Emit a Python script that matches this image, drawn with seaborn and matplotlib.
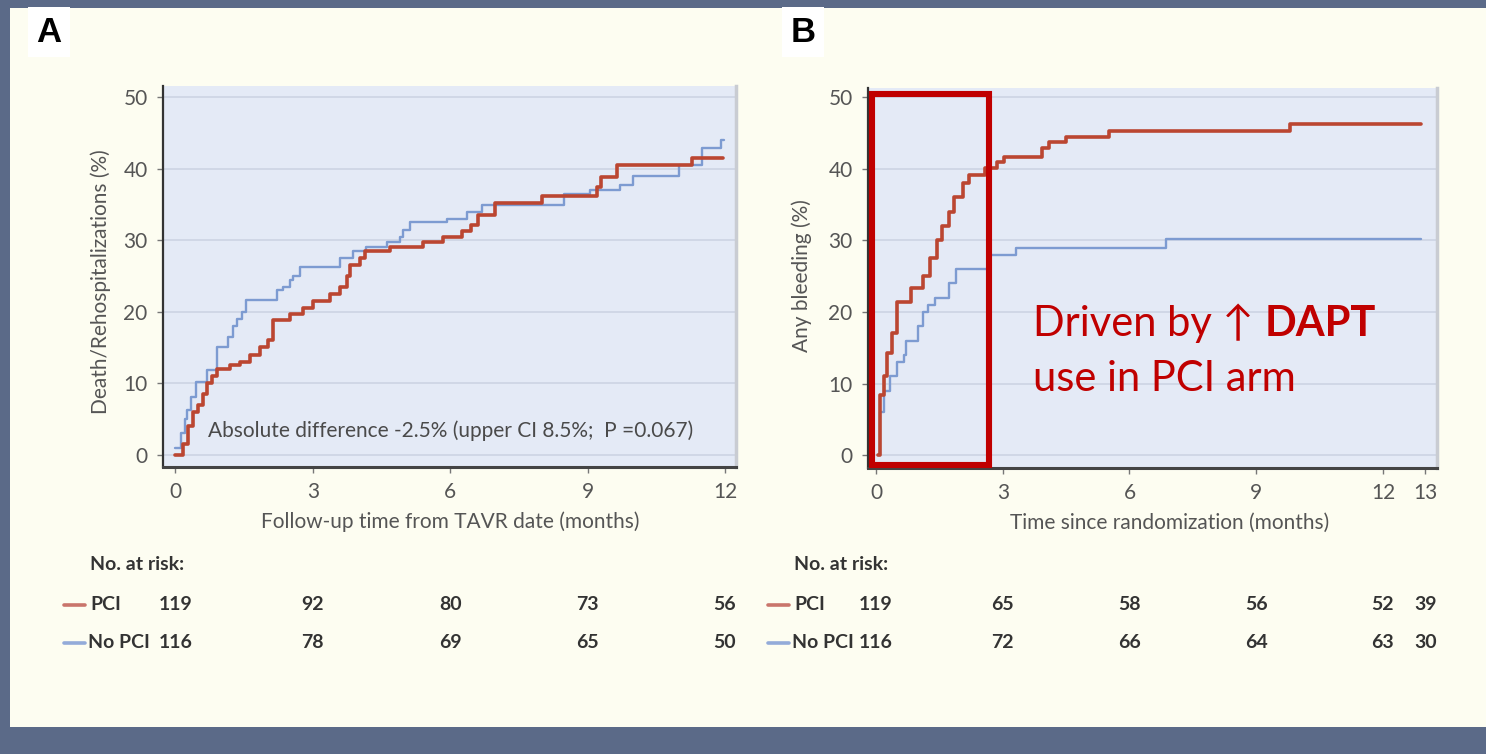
import matplotlib
matplotlib.use("Agg")
import matplotlib.pyplot as plt
import matplotlib.transforms as mtrans
from matplotlib.patches import Rectangle
from matplotlib.lines import Line2D
import seaborn as sns
import pandas as pd

# ---------------- data ----------------
# Panel A: Death/Rehospitalizations (%)
a_pci_t = [0, 0.17, 0.27, 0.38, 0.5, 0.6, 0.7, 0.8, 0.9, 1.19, 1.41, 1.63, 1.84, 2.03, 2.14,
           2.5, 2.79, 3.0, 3.37, 3.59, 3.74, 3.81, 4.03, 4.14, 4.68, 5.4, 5.84, 6.25, 6.45,
           6.6, 6.97, 8.0, 9.2, 9.3, 9.65, 11.29, 11.95]
a_pci_v = [0, 1.5, 4, 6, 7, 8.5, 10, 11, 12, 12.5, 13, 14, 15, 16, 18.8,
           19.7, 20.5, 21.5, 22.5, 23.5, 25, 26.5, 27.5, 28.5, 29.1, 29.8, 30.5, 31.3, 32.2,
           33.5, 35.2, 36.2, 37.5, 38.8, 40.5, 41.5, 41.5]
a_nopci_t = [0, 0.12, 0.2, 0.25, 0.35, 0.46, 0.7, 0.9, 1.15, 1.25, 1.35, 1.45, 1.55, 2.21,
             2.35, 2.5, 2.57, 2.72, 3.59, 3.88, 4.17, 4.61, 4.9, 4.97, 5.12, 5.92, 6.37, 6.7,
             8.49, 9.05, 9.7, 10.0, 11.0, 11.5, 11.92, 11.97]
a_nopci_v = [0.9, 3, 5, 6.2, 8, 10.2, 11.9, 15.1, 16.5, 18, 19, 20, 21.6, 23,
             23.5, 24.5, 25, 26.3, 27.5, 28.5, 29, 29.8, 30.5, 31.5, 32.5, 33, 34, 35,
             36.5, 37, 37.8, 39.05, 40.5, 42.9, 44.1, 44.1]

# Panel B: Any bleeding (%)
b_pci_t = [0.05, 0.1, 0.19, 0.27, 0.38, 0.5, 0.83, 1.12, 1.28, 1.45, 1.57, 1.73, 1.85, 2.07,
           2.19, 2.58, 2.86, 3.03, 3.93, 4.1, 4.49, 5.51, 9.79, 12.89]
b_pci_v = [0, 8.4, 11, 14.2, 17, 21.4, 23.3, 25, 27.5, 30, 32, 34, 36, 38,
           39.1, 40.1, 41, 41.6, 42.9, 43.7, 44.5, 45.3, 46.3, 46.3]
b_nopci_t = [0.05, 0.1, 0.2, 0.33, 0.5, 0.66, 0.72, 1.0, 1.12, 1.23, 1.4, 1.73, 1.9, 2.64,
             3.31, 6.86, 12.89]
b_nopci_v = [0, 6, 9, 11, 13, 14, 16, 18, 20, 21, 22, 24, 26, 28,
             29, 30.2, 30.2]

# risk tables
a_risk_t = [0, 3, 6, 9, 12]
a_risk_pci = [119, 92, 80, 73, 56]
a_risk_nopci = [116, 78, 69, 65, 50]
b_risk_t = [0, 3, 6, 9, 12, 13]
b_risk_pci = [119, 65, 58, 56, 52, 39]
b_risk_nopci = [116, 72, 66, 64, 63, 30]

a_xticks = [0, 3, 6, 9, 12]
b_xticks = [0, 3, 6, 9, 12, 13]
yticks = [0, 10, 20, 30, 40, 50]

# ---------------- style ----------------
sns.set_theme(style="white")
plt.rcParams["font.family"] = ["Lato", "DejaVu Sans"]

RED = "#bb4631"
BLUE = "#7d9bd1"
PLOT_BG = "#e4eaf6"
CREAM = "#fdfdf1"
FRAME = "#5b6a88"
TXT = "#555555"

W, H = 1486, 754
fig = plt.figure(figsize=(W / 100, H / 100), dpi=100)
fig.patch.set_facecolor(FRAME)
fig.add_artist(Rectangle((10 / W, 1 - 727 / H), 1, (727 - 8) / H,
                         transform=fig.transFigure, facecolor=CREAM,
                         edgecolor="none", zorder=-5))


def px_axes(l, t, r, b):
    return fig.add_axes([l / W, 1 - b / H, (r - l) / W, (b - t) / H])


axA = px_axes(163, 86, 736, 467)
axB = px_axes(868, 88, 1437, 468)


def style_axes(ax, xlim, ylim, xticks):
    ax.set_facecolor(PLOT_BG)
    ax.set_xlim(*xlim)
    ax.set_ylim(*ylim)
    ax.set_xticks(xticks)
    ax.set_yticks(yticks)
    ax.yaxis.grid(True, color="#cdd4e3", lw=1.2)
    ax.xaxis.grid(False)
    ax.set_axisbelow(True)
    ax.spines["top"].set_visible(False)
    ax.spines["right"].set_color("#c9ccd2")
    ax.spines["right"].set_linewidth(2.5)
    ax.spines["left"].set_color("#333333")
    ax.spines["left"].set_linewidth(1.6)
    ax.spines["bottom"].set_color("#444444")
    ax.spines["bottom"].set_linewidth(2.2)
    ax.tick_params(axis="both", which="major", direction="out", length=4,
                   width=1, color="#777777", labelsize=15, labelcolor=TXT, pad=7,
                   left=True, bottom=True)


style_axes(axA, (-0.27, 12.24), (-1.75, 51.6), a_xticks)
style_axes(axB, (-0.19, 13.28), (-1.8, 51.3), b_xticks)


def km(ax, t, v, color, lw, z):
    df = pd.DataFrame({"time": t, "pct": v})
    sns.lineplot(data=df, x="time", y="pct", ax=ax, color=color, lw=lw,
                 drawstyle="steps-post", estimator=None, sort=False, zorder=z)


km(axA, a_nopci_t, a_nopci_v, BLUE, 1.7, 3)
km(axA, a_pci_t, a_pci_v, RED, 2.6, 4)
km(axB, b_nopci_t, b_nopci_v, BLUE, 1.7, 3)
km(axB, b_pci_t, b_pci_v, RED, 2.6, 4)

# axis labels
axA.set_xlabel("Follow-up time from TAVR date (months)", fontsize=15, color=TXT)
axA.set_ylabel("Death/Rehospitalizations (%)", fontsize=15, color=TXT)
axA.xaxis.set_label_coords((450 - 163) / 573, (467 - 522) / 381)
axA.yaxis.set_label_coords((101 - 163) / 573, (467 - 282) / 381)
axB.set_xlabel("Time since randomization (months)", fontsize=15, color=TXT)
axB.set_ylabel("Any bleeding (%)", fontsize=15, color=TXT)
axB.xaxis.set_label_coords((1170 - 868) / 569, (468 - 523) / 380)
axB.yaxis.set_label_coords((802 - 868) / 569, (468 - 276) / 380)
for ax in (axA, axB):
    ax.xaxis.label.set_va("center")
    ax.yaxis.label.set_va("center")

# annotation A
axA.text(0.71, 3.3, "Absolute difference -2.5% (upper CI 8.5%;  P =0.067)",
         fontsize=15, color="#4a4a4a", ha="left", va="center", zorder=6)

# annotation B: red box and text
axB.add_patch(Rectangle((-0.095, -1.33), 2.775, 51.83, fill=False,
                        edgecolor="#c00000", lw=4.4, clip_on=False, zorder=8))
t1 = axB.text(3.72, 16.7, "Driven by \u2191 ", fontsize=30, color="#c00000",
              ha="left", va="baseline", zorder=7)
axB.annotate("DAPT", xy=(1, 0), xycoords=t1, fontsize=30, color="#c00000",
             fontweight="bold", ha="left", va="bottom", zorder=7)
axB.text(3.72, 9.0, "use in PCI arm", fontsize=30, color="#c00000",
         ha="left", va="baseline", zorder=7)

# panel letters
fig.text(49 / W, 1 - 32 / H, "A", fontsize=25, fontweight="bold", color="black",
         ha="center", va="center", family=["Liberation Sans", "DejaVu Sans"],
         bbox=dict(boxstyle="square,pad=0.25", facecolor="white", edgecolor="none"))
fig.text(803 / W, 1 - 32 / H, "B", fontsize=25, fontweight="bold", color="black",
         ha="center", va="center", family=["Liberation Sans", "DejaVu Sans"],
         bbox=dict(boxstyle="square,pad=0.25", facecolor="white", edgecolor="none"))

# risk tables
RT = "#333333"
RS = 14
y_head, y_pci, y_no = 1 - 565 / H, 1 - 605 / H, 1 - 643 / H


def risk_table(ax, x0, times, pci, nopci):
    tr = mtrans.blended_transform_factory(ax.transData, fig.transFigure)
    fig.text((x0 + 26) / W, y_head, "No. at risk:", fontsize=RS, color=RT,
             fontweight="bold", ha="left", va="center")
    fig.add_artist(Line2D([x0 / W, (x0 + 21) / W], [y_pci, y_pci],
                          transform=fig.transFigure, color="#c9756c", lw=2.6))
    fig.add_artist(Line2D([x0 / W, (x0 + 21) / W], [y_no, y_no],
                          transform=fig.transFigure, color="#93abd9", lw=2.6))
    fig.text((x0 + 26) / W, y_pci, "PCI", fontsize=RS, color=RT,
             fontweight="bold", ha="left", va="center")
    fig.text((x0 + 24) / W, y_no, "No PCI", fontsize=RS, color=RT,
             fontweight="bold", ha="left", va="center")
    for t, p, n in zip(times, pci, nopci):
        ax.text(t, y_pci, str(p), transform=tr, fontsize=RS, color=RT,
                fontweight="bold", ha="center", va="center", clip_on=False)
        ax.text(t, y_no, str(n), transform=tr, fontsize=RS, color=RT,
                fontweight="bold", ha="center", va="center", clip_on=False)


risk_table(axA, 64, a_risk_t, a_risk_pci, a_risk_nopci)
risk_table(axB, 768, b_risk_t, b_risk_pci, b_risk_nopci)

fig.savefig("out.png", dpi=100, facecolor=fig.get_facecolor())
